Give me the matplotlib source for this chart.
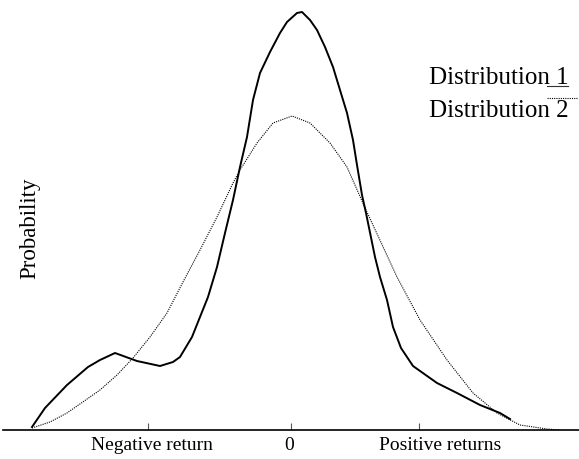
import matplotlib.pyplot as plt
import matplotlib.transforms as mtrans
from matplotlib.lines import Line2D

# Distribution 1 (solid, empirical) - return vs probability
dist1_x = [-2.59, -2.46, -2.24, -2.03, -1.91, -1.76, -1.54, -1.31, -1.18, -1.11,
           -0.99, -0.91, -0.83, -0.74, -0.66, -0.58, -0.51, -0.44, -0.38, -0.31,
           -0.21, -0.11, -0.04, 0.06, 0.11, 0.19, 0.26, 0.34, 0.42, 0.49,
           0.56, 0.62, 0.66, 0.71, 0.75, 0.84, 0.89, 0.96, 1.02, 1.10,
           1.22, 1.46, 1.66, 1.89, 2.09, 2.19]
dist1_y = [0.003, 0.022, 0.045, 0.063, 0.070, 0.077, 0.069, 0.064, 0.068, 0.073,
           0.093, 0.113, 0.133, 0.163, 0.197, 0.230, 0.263, 0.293, 0.330, 0.357,
           0.378, 0.397, 0.408, 0.417, 0.418, 0.410, 0.400, 0.383, 0.363, 0.340,
           0.317, 0.290, 0.265, 0.235, 0.217, 0.173, 0.153, 0.130, 0.103, 0.082,
           0.064, 0.047, 0.037, 0.025, 0.017, 0.011]

# Distribution 2 (dotted, normal-like)
dist2_x = [-2.59, -2.41, -2.24, -1.91, -1.74, -1.58, -1.41, -1.24, -1.08, -0.91,
           -0.74, -0.58, -0.51, -0.34, -0.18, 0.01, 0.19, 0.39, 0.56, 0.75,
           1.06, 1.29, 1.56, 1.82, 2.06, 2.29, 2.56, 2.69]
dist2_y = [0.002, 0.008, 0.017, 0.040, 0.055, 0.072, 0.093, 0.117, 0.148, 0.180,
           0.213, 0.247, 0.260, 0.287, 0.307, 0.314, 0.307, 0.287, 0.263, 0.220,
           0.153, 0.110, 0.070, 0.037, 0.017, 0.005, 0.001, 0.000]

tick_pos = [-1.43, 0, 1.28]
tick_labels = ['Negative return', '0', 'Positive returns']
legend_labels = ['Distribution 1', 'Distribution 2']

plt.rcParams['font.family'] = ['Liberation Serif', 'DejaVu Serif']

W, H = 579, 459
fig = plt.figure(figsize=(W / 100, H / 100), dpi=100)
ax = fig.add_axes([3 / W, 29 / H, 576 / W, 430 / H])

ax.plot(dist1_x, dist1_y, color='black', lw=1.4)
ax.plot(dist2_x, dist2_y, color='black', lw=0.8, linestyle=(0, (1, 1)))

ax.set_xlim(-2.88, 2.88)
ax.set_ylim(0, 0.430)
for s in ['top', 'right', 'left']:
    ax.spines[s].set_visible(False)
ax.spines['bottom'].set_linewidth(1.2)
ax.set_yticks([])
ax.set_xticks(tick_pos, tick_labels)
ax.tick_params(axis='x', direction='in', length=5, width=0.8, color='#555555',
               labelsize=14, pad=5)

# labels are not quite centred on their ticks in the original
shifts = [4, -2, 21]
for lab, dx in zip(ax.get_xticklabels(), shifts):
    lab.set_transform(lab.get_transform() + mtrans.ScaledTranslation(dx / 100, 0, fig.dpi_scale_trans))

fig.text(30 / W, 1 - 228 / H, 'Probability', rotation=90, ha='center', va='center', size=16.5)

# hand-made legend
fig.text(429 / W, 1 - 84 / H, legend_labels[0], va='baseline', size=18)
fig.text(429 / W, 1 - 117 / H, legend_labels[1], va='baseline', size=18)
fig.add_artist(Line2D([547 / W, 568 / W], [1 - 86 / H] * 2, color='#333333', lw=0.8))
fig.add_artist(Line2D([547 / W, 577 / W], [1 - 98 / H] * 2, color='black', lw=0.8,
                      linestyle=(0, (1, 1))))

fig.savefig('out.png', dpi=100)
